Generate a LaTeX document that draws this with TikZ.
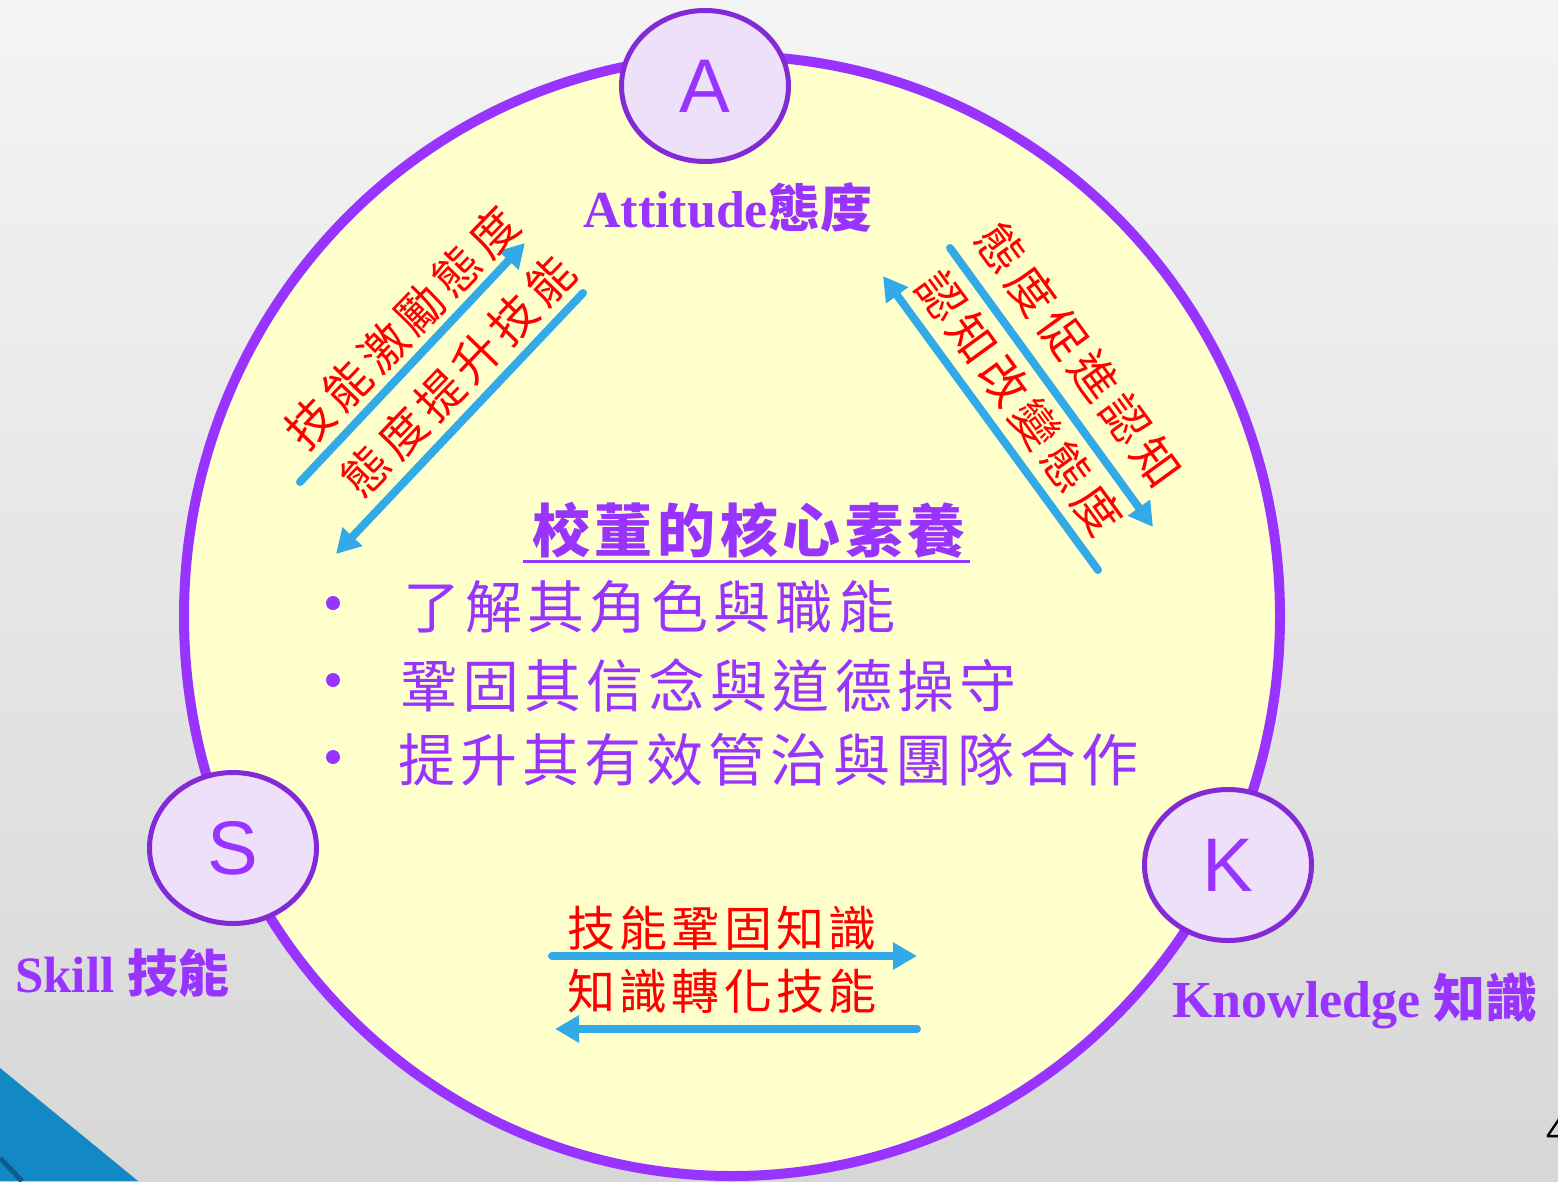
\documentclass[tikz,border=0pt]{standalone}
\usepackage{fontspec}
\setmainfont{Liberation Serif}
\newfontfamily\cjk{Noto Sans CJK TC}
\newfontfamily\cjkred{Noto Sans CJK TC}[LetterSpace=13]
\newfontfamily\cjkbot{Noto Sans CJK TC}[LetterSpace=9]
\newfontfamily\cjkline{Noto Sans CJK TC}[LetterSpace=9]
\newfontfamily\cjktitle{Noto Sans CJK TC}[LetterSpace=8]
\newfontfamily\lsans{Liberation Sans}
\usetikzlibrary{arrows.meta,shapes.geometric}
\definecolor{bgtop}{HTML}{F4F4F4}
\definecolor{bgbot}{HTML}{D7D7D7}
\definecolor{vio}{HTML}{9933FF}
\definecolor{vioedge}{HTML}{8329D6}
\definecolor{viofill}{HTML}{EDE0F8}
\definecolor{paleyel}{HTML}{FFFFCC}
\definecolor{skyarrow}{HTML}{33AAE8}
\definecolor{cornerblue}{HTML}{1288C4}
\definecolor{cornerdark}{HTML}{0E5C8C}
\begin{document}
\begin{tikzpicture}[x=1pt,y=-1pt,
  badge/.style={ellipse, draw=vioedge, line width=5pt, fill=viofill, minimum width=167pt, minimum height=151pt, inner sep=0pt, font=\lsans\fontsize{76}{76}\selectfont, text=vio},
  redtxt/.style={text=red, font=\cjkred\fontsize{47}{47}\selectfont, inner sep=0pt},
  bottxt/.style={text=red, font=\cjkbot\fontsize{48}{48}\selectfont, inner sep=0pt},
  linetxt/.style={text=vio, font=\cjkline\fontsize{57}{57}\selectfont, inner sep=0pt, anchor=west},
  bulletdot/.style={circle, fill=vio, minimum size=14pt, inner sep=0pt},
  flow/.style={draw=skyarrow, line width=8pt, line cap=round, -{Triangle[length=24pt,width=26pt]}},
  axislabel/.style={text=vio, font=\bfseries\fontsize{52}{52}\selectfont, inner sep=0pt, anchor=base west}
]
\useasboundingbox (0,0) rectangle (1558,1181);
\clip (0,0) rectangle (1558,1181);
% background
\shade[top color=bgtop, bottom color=bgbot] (0,0) rectangle (1558,1181);
\fill[cornerblue] (0,1068) -- (138,1181) -- (0,1181) -- cycle;
\draw[cornerdark, line width=5pt] (0,1158) -- (22,1181);
% big ring
\draw[vio, line width=10pt, fill=paleyel] (732,616) ellipse [x radius=548, y radius=560];

% title and bullets
\node[text=vio, font=\cjktitle\bfseries\fontsize{58}{58}\selectfont, inner sep=0pt] (title) at (749,530) {校董的核心素養};
\draw[vio, line width=3pt] (523,561) -- (970,561);
\node[bulletdot] (b1) at (333,603) {};
\node[bulletdot] (b2) at (333,680) {};
\node[bulletdot] (b3) at (333,757) {};
\node[linetxt] (l1) at (403,607) {了解其角色與職能};
\node[linetxt] (l2) at (400,685) {鞏固其信念與道德操守};
\node[linetxt] (l3) at (398,760) {提升其有效管治與團隊合作};

% arrow end points
\coordinate (p1s) at (300,482); \coordinate (p1e) at (525,243);
\coordinate (p2s) at (583,293); \coordinate (p2e) at (336,554);
\coordinate (p3s) at (950,248); \coordinate (p3e) at (1153,527);
\coordinate (p4s) at (1098,570); \coordinate (p4e) at (883,276);
\coordinate (p5s) at (552,956); \coordinate (p5e) at (917,956);
\coordinate (p6s) at (917,1029); \coordinate (p6e) at (555,1029);
\draw[flow] (p1s) -- (p1e);
\draw[flow] (p2s) -- (p2e);
\draw[flow] (p3s) -- (p3e);
\draw[flow] (p4s) -- (p4e);
\draw[flow] (p5s) -- (p5e);
\draw[flow] (p6s) -- (p6e);

% red labels
\node[redtxt, rotate=46] (t1) at (402,328) {技能激勵態度};
\node[redtxt, rotate=46] (t2) at (458,376) {態度提升技能};
\node[redtxt, rotate=-54] (t3) at (1079,355) {態度促進認知};
\node[redtxt, rotate=-54] (t4) at (1020,403) {認知改變態度};
\node[bottxt] (t5) at (722,928) {技能鞏固知識};
\node[bottxt] (t6) at (722,991) {知識轉化技能};

% badges
\node[badge] (A) at (705,86) {A};
\node[badge] (S) at (233,848) {S};
\node[badge] (K) at (1228,865) {K};

% axis labels
\node[axislabel] (attl) at (583,227) {Attitude{\cjk 態度}};
\node[axislabel, font=\bfseries\fontsize{51}{51}\selectfont] (skl) at (15,992) {Skill {\cjk 技能}};
\node[axislabel] (knl) at (1172,1017) {Knowledge {\cjk 知識}};

% page number
\node[font=\lsans\fontsize{36}{36}\selectfont, anchor=base west, inner sep=0pt] (pagenum) at (1546,1143) {4};
\end{tikzpicture}
\end{document}
